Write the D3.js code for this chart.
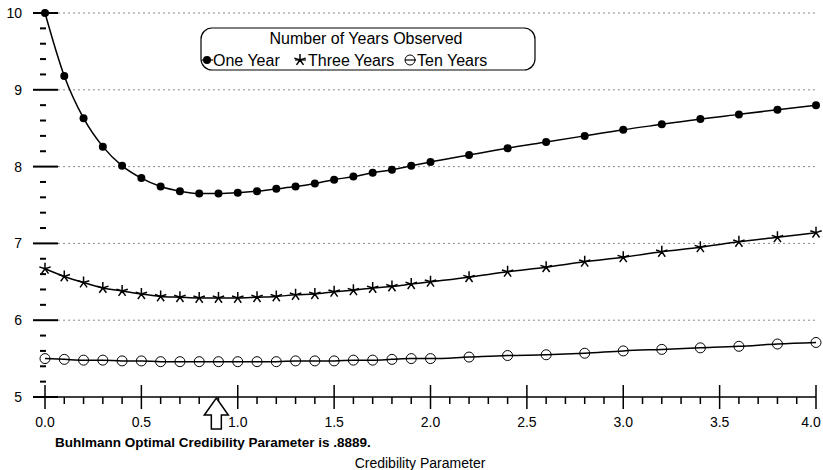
<!DOCTYPE html>
<html>
<head>
<meta charset="utf-8">
<script src="https://cdn.jsdelivr.net/npm/d3@7"></script>
<style>
  body { margin: 0; background: #fff; }
  svg text { font-family: Arial, "Liberation Sans", sans-serif; fill: #000; }
</style>
</head>
<body>
<div id="chart"></div>
<script>
// credibility parameter k
var kValues = [0.0, 0.1, 0.2, 0.3, 0.4, 0.5, 0.6, 0.7, 0.8, 0.9, 1.0, 1.1, 1.2, 1.3, 1.4, 1.5, 1.6, 1.7, 1.8, 1.9, 2.0,
  2.2, 2.4, 2.6, 2.8, 3.0, 3.2, 3.4, 3.6, 3.8, 4.0];

var oneYear = [10.0, 9.18, 8.63, 8.26, 8.01, 7.85, 7.74, 7.68, 7.65, 7.65, 7.66, 7.68, 7.71, 7.74, 7.78, 7.83, 7.87, 7.92, 7.96, 8.01, 8.06,
  8.15, 8.24, 8.32, 8.40, 8.48, 8.55, 8.62, 8.68, 8.74, 8.80];

var threeYears = [6.67, 6.57, 6.49, 6.42, 6.38, 6.34, 6.31, 6.30, 6.29, 6.29, 6.29, 6.30, 6.31, 6.33, 6.34, 6.37, 6.39, 6.42, 6.44, 6.47, 6.50,
  6.56, 6.63, 6.69, 6.76, 6.82, 6.89, 6.95, 7.02, 7.08, 7.14];

var tenYears = [5.50, 5.49, 5.48, 5.48, 5.47, 5.47, 5.46, 5.46, 5.46, 5.46, 5.46, 5.46, 5.46, 5.47, 5.47, 5.47, 5.48, 5.48, 5.49, 5.50, 5.50,
  5.52, 5.54, 5.55, 5.57, 5.60, 5.62, 5.64, 5.66, 5.69, 5.71];

var seriesNames = ["One Year", "Three Years", "Ten Years"];
var optimalK = 0.8889;

var yMajor = [5, 6, 7, 8, 9, 10];
var xMajor = [0.0, 0.5, 1.0, 1.5, 2.0, 2.5, 3.0, 3.5, 4.0];

var width = 823, height = 470;

var svg = d3.select("div#chart")
  .append("svg")
    .attr("width", width)
    .attr("height", height);

var x = d3.scaleLinear().domain([0, 4]).range([45, 816]);
var y = d3.scaleLinear().domain([5, 10]).range([397, 13]);

// dashed gridlines
svg.selectAll(".grid")
  .data(yMajor.filter(function(d) { return d > 5; }))
  .enter()
  .append("line")
    .attr("class", "grid")
    .attr("x1", 58)
    .attr("x2", x(4))
    .attr("y1", function(d) { return y(d); })
    .attr("y2", function(d) { return y(d); })
    .style("stroke", "#8a8a8a")
    .style("stroke-width", 1)
    .style("stroke-dasharray", "2,3");

// y axis: no spine, long major ticks and short minor dashes
var yMinor = d3.range(5.2, 10, 0.2).filter(function(d) { return Math.abs(d - Math.round(d)) > 0.01; });

svg.selectAll(".ymajor")
  .data(yMajor)
  .enter()
  .append("line")
    .attr("x1", 33)
    .attr("x2", 58)
    .attr("y1", function(d) { return y(d); })
    .attr("y2", function(d) { return y(d); })
    .style("stroke", "#000")
    .style("stroke-width", 2);

svg.selectAll(".yminor")
  .data(yMinor)
  .enter()
  .append("line")
    .attr("x1", 40)
    .attr("x2", 46)
    .attr("y1", function(d) { return y(d); })
    .attr("y2", function(d) { return y(d); })
    .style("stroke", "#000")
    .style("stroke-width", 2);

svg.selectAll(".ylabel")
  .data(yMajor)
  .enter()
  .append("text")
    .attr("x", 22)
    .attr("y", function(d) { return y(d) + 5; })
    .style("text-anchor", "end")
    .style("font-size", "14px")
    .text(function(d) { return d; });

// x axis
svg.append("line")
  .attr("x1", 33)
  .attr("x2", x(4))
  .attr("y1", y(5))
  .attr("y2", y(5))
  .style("stroke", "#000")
  .style("stroke-width", 1.5);

var xMinor = d3.range(0.1, 4, 0.1).filter(function(d) { return Math.abs(d * 2 - Math.round(d * 2)) > 0.01; });

svg.selectAll(".xmajor")
  .data(xMajor)
  .enter()
  .append("line")
    .attr("x1", function(d) { return x(d); })
    .attr("x2", function(d) { return x(d); })
    .attr("y1", y(5) - 12)
    .attr("y2", y(5) + 12)
    .style("stroke", "#000")
    .style("stroke-width", 1.5);

svg.selectAll(".xminor")
  .data(xMinor)
  .enter()
  .append("line")
    .attr("x1", function(d) { return x(d); })
    .attr("x2", function(d) { return x(d); })
    .attr("y1", y(5))
    .attr("y2", y(5) + 7)
    .style("stroke", "#000")
    .style("stroke-width", 1.5);

// last label sits against the right edge so it is not cut off
svg.selectAll(".xlabel")
  .data(xMajor)
  .enter()
  .append("text")
    .attr("x", function(d) { return Math.min(x(d), width - 12); })
    .attr("y", 427)
    .style("text-anchor", "middle")
    .style("font-size", "14px")
    .text(function(d) { return d3.format(".1f")(d); });

// curves
var line = d3.line()
  .x(function(d) { return x(d[0]); })
  .y(function(d) { return y(d[1]); })
  .curve(d3.curveMonotoneX);

var series = [oneYear, threeYears, tenYears].map(function(vals) {
  return kValues.map(function(k, i) { return [k, vals[i]]; });
});

series.forEach(function(pts) {
  svg.append("path")
    .datum(pts)
    .attr("d", line)
    .style("fill", "none")
    .style("stroke", "#000")
    .style("stroke-width", 1.5);
});

// star marker: five spokes
function starPath(r) {
  var p = "";
  for (var i = 0; i < 5; i++) {
    var a = -Math.PI / 2 + i * 2 * Math.PI / 5;
    p += "M0,0L" + (r * Math.cos(a)).toFixed(2) + "," + (r * Math.sin(a)).toFixed(2);
  }
  return p;
}

function drawMarker(g, type) {
  if (type == 0) {
    g.append("circle").attr("r", 4).style("fill", "#000");
  } else if (type == 1) {
    g.append("path").attr("d", starPath(6)).style("stroke", "#000").style("stroke-width", 1.5).style("fill", "none");
  } else {
    g.append("circle").attr("r", 5).style("fill", "none").style("stroke", "#000").style("stroke-width", 1);
  }
}

series.forEach(function(pts, s) {
  svg.selectAll(".m" + s)
    .data(pts)
    .enter()
    .append("g")
      .attr("class", "m" + s)
      .attr("transform", function(d) { return "translate(" + x(d[0]) + "," + y(d[1]) + ")"; })
      .each(function() { drawMarker(d3.select(this), s); });
});

// legend
var legend = svg.append("g");

legend.append("rect")
  .attr("x", 201)
  .attr("y", 28)
  .attr("width", 334)
  .attr("height", 42)
  .attr("rx", 11)
  .style("fill", "#fff")
  .style("stroke", "#000")
  .style("stroke-width", 1.2);

legend.append("text")
  .attr("x", 366)
  .attr("y", 44)
  .style("text-anchor", "middle")
  .style("font-size", "16px")
  .text("Number of Years Observed");

var legendMarkerX = [207, 300, 410];
var legendTextX = [213, 308, 417];

seriesNames.forEach(function(name, i) {
  var g = legend.append("g").attr("transform", "translate(" + legendMarkerX[i] + ",60)");
  g.append("line").attr("x1", -5).attr("x2", 6).style("stroke", "#000").style("stroke-width", 1.2);
  drawMarker(g, i);
  legend.append("text")
    .attr("x", legendTextX[i])
    .attr("y", 66)
    .style("font-size", "16px")
    .text(name);
});

// arrow pointing at optimal k
var ax = x(optimalK), ay = y(5) + 1;
svg.append("path")
  .attr("d", "M" + ax + "," + ay +
    "L" + (ax + 12) + "," + (ay + 17) +
    "L" + (ax + 5) + "," + (ay + 17) +
    "L" + (ax + 5) + "," + (ay + 31) +
    "L" + (ax - 5) + "," + (ay + 31) +
    "L" + (ax - 5) + "," + (ay + 17) +
    "L" + (ax - 12) + "," + (ay + 17) + "Z")
  .style("fill", "#fff")
  .style("stroke", "#000")
  .style("stroke-width", 1.5);

svg.append("text")
  .attr("x", 55)
  .attr("y", 447)
  .style("font-size", "13.5px")
  .style("font-weight", "bold")
  .text("Buhlmann Optimal Credibility Parameter is " + String(optimalK).replace(/^0/, "") + ".");

svg.append("text")
  .attr("x", 420)
  .attr("y", 468)
  .style("text-anchor", "middle")
  .style("font-size", "14px")
  .text("Credibility Parameter");
</script>
</body>
</html>
